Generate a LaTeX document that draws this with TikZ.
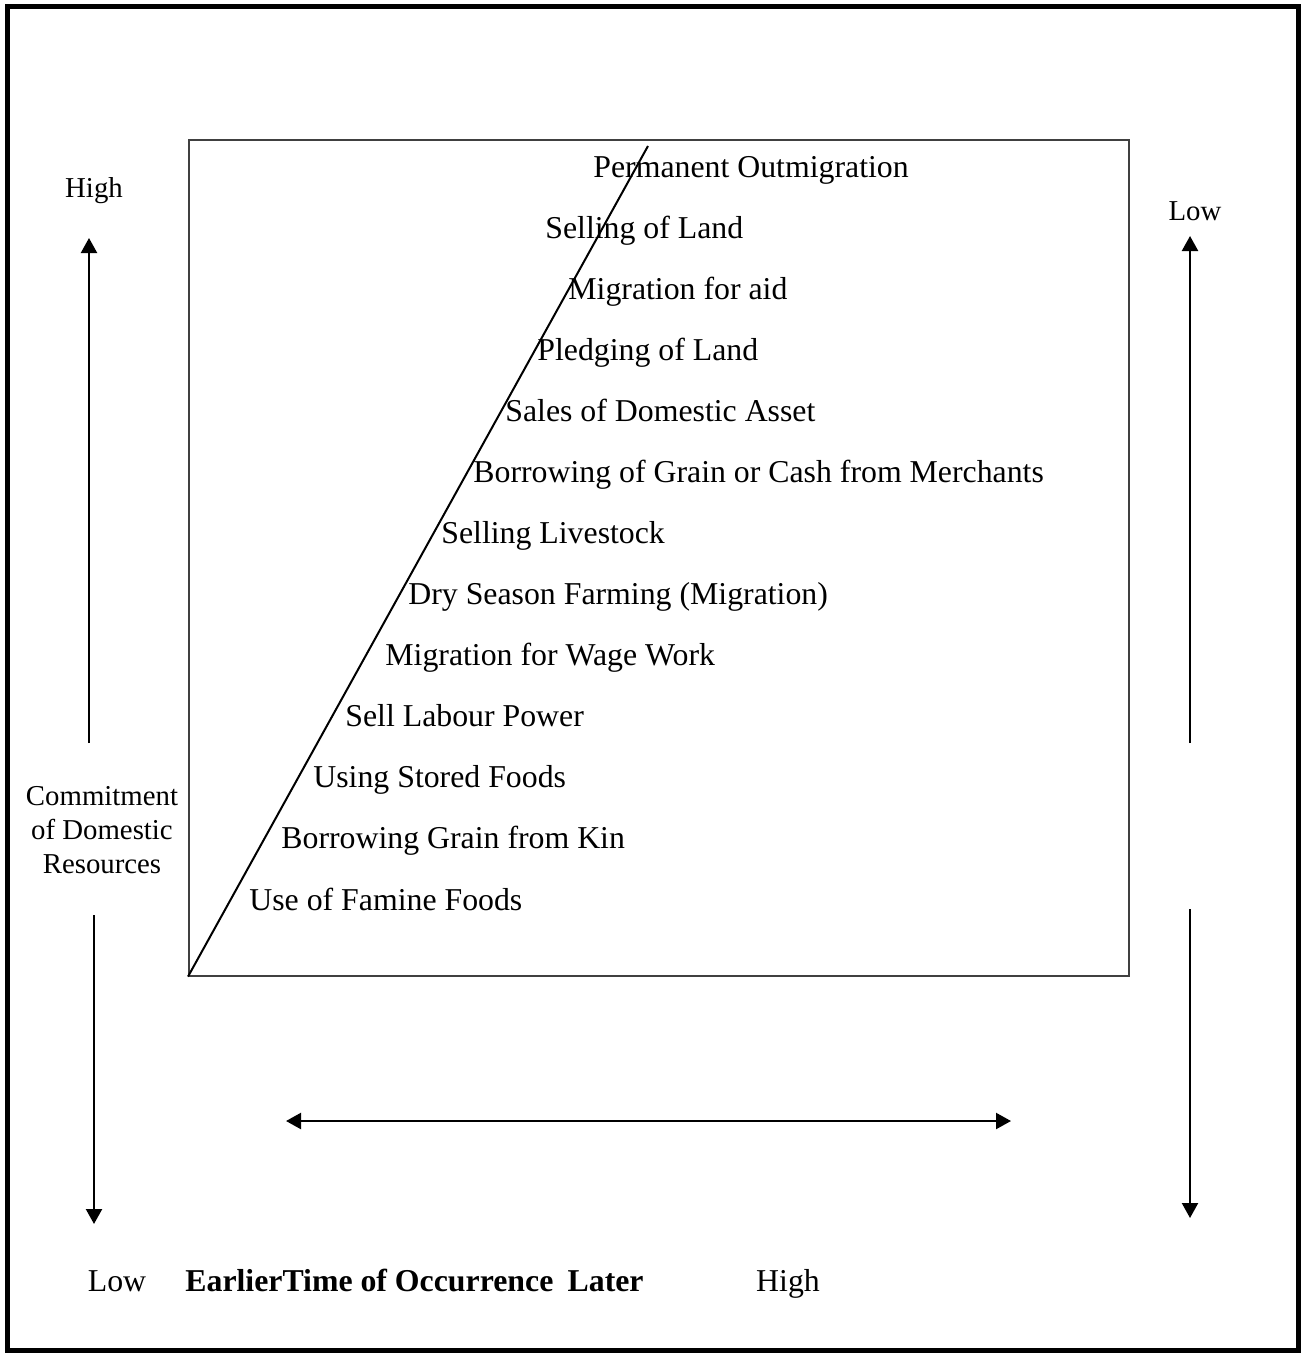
\documentclass[tikz,border=0pt]{standalone}
\usepackage{fontspec}
\setmainfont{Liberation Serif}
\usetikzlibrary{arrows.meta,positioning}

\begin{document}
\begin{tikzpicture}[x=0.5pt,y=-0.5pt,
    txt/.style={inner sep=0pt,font=\fontsize{15.9}{17}\selectfont},
    side/.style={inner sep=0pt,font=\fontsize{14.4}{17}\selectfont},
    item/.style={txt,anchor=base west},
    axis/.style={line width=1.1pt,-{Triangle[length=7.5pt,width=8pt]}}]
  \useasboundingbox (0,0) rectangle (1306,1354);
  \draw[line width=2.5pt] (7,7) rectangle (1298,1350);

  % the box with the coping strategies
  \node[draw=black!75,line width=0.8pt,inner sep=0pt,anchor=north west,
        minimum width=470pt,minimum height=418pt] (box) at (188,139) {};
  \coordinate (top) at (648,146);
  \draw[line width=1pt] (box.south west) -- (top);

  \foreach \name/\x/\y/\label in {
      perm/593/177/Permanent Outmigration,
      sell/545/238/Selling of Land,
      aid/568/299/Migration for aid,
      pledge/537/360/Pledging of Land,
      asset/505/421/Sales of Domestic Asset,
      merch/473/482/Borrowing of Grain or Cash from Merchants,
      stock/441/543/Selling Livestock,
      dry/408/604/{Dry Season Farming (Migration)},
      wage/385/665/Migration for Wage Work,
      labour/345/726/Sell Labour Power,
      stored/313/787/Using Stored Foods,
      kin/281/848/Borrowing Grain from Kin,
      famine/249/910/Use of Famine Foods}
    \node[item] (\name) at (\x,\y) {\label};

  % left axis
  \node[side,anchor=base] (highl) at (94,197) {High};
  \node[side,align=center] (commit) at (102,830) {Commitment\\of Domestic\\Resources};
  \coordinate (lup0) at (89,743);
  \coordinate (lup1) at (89,238);
  \coordinate (ldn0) at (94,915);
  \coordinate (ldn1) at (94,1224);
  \draw[axis] (lup0) -- (lup1);
  \draw[axis] (ldn0) -- (ldn1);

  % right axis
  \node[side,anchor=base] (lowr) at (1195,220) {Low};
  \coordinate (rup0) at (1190,743);
  \coordinate (rup1) at (1190,236);
  \coordinate (rdn0) at (1190,909);
  \coordinate (rdn1) at (1190,1218);
  \draw[axis] (rup0) -- (rup1);
  \draw[axis] (rdn0) -- (rdn1);

  % time axis
  \coordinate (tl) at (286,1121);
  \coordinate (tr) at (1011,1121);
  \draw[axis,{Triangle[length=7.5pt,width=8pt]}-{Triangle[length=7.5pt,width=8pt]}] (tl) -- (tr);
  \node[txt,anchor=base] (lowb) at (117,1291) {Low};
  \node[txt,anchor=base west] (time) at (185,1291) {\bfseries EarlierTime of Occurrence\hspace{0.45em}Later};
  \node[txt,anchor=base] (highb) at (788,1291) {High};
\end{tikzpicture}
\end{document}
